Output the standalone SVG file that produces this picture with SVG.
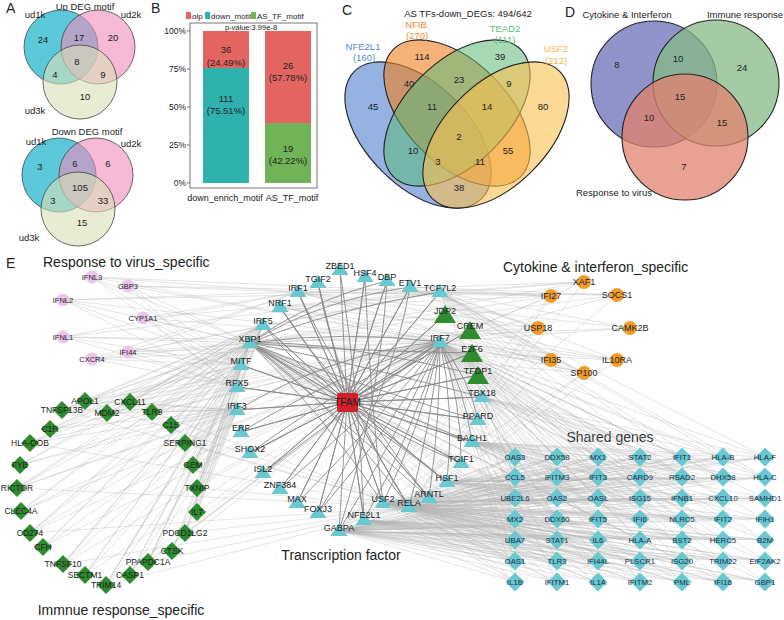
<svg xmlns="http://www.w3.org/2000/svg" xmlns:xlink="http://www.w3.org/1999/xlink" width="784" height="620" viewBox="0 0 784 620">
<style>
.t{font-family:"Liberation Sans",Arial,Helvetica,sans-serif;fill:#222}
.c{text-anchor:middle}
.r{text-anchor:end}
.plet{font-size:14px}
.f95{font-size:9.5px}
.f9{font-size:9px}
.f85{font-size:8.5px}
.f8{font-size:8px}
.f78{font-size:7.8px}
.f75{font-size:7.5px}
.f14{font-size:14px}
.vs{stroke:#444;stroke-width:.8}
.vc{stroke:#222;stroke-width:1.1}
.le{fill:none;stroke:#b3b3b3;stroke-width:.45;stroke-opacity:.8}
.de{fill:none;stroke:#8a8a8a;stroke-width:.9}
.tf{fill:#6ac8d1}
.tfg{fill:#2e8b2e}
.im{fill:#2e8b2e}
.vi{fill:#ebc6ea}
.cy{fill:#f49b2c}
.sh{fill:#6ac8d1}
.sl{fill:#1e2c44}
</style>
<defs>
<path id="tri" d="M0 -8L8.5 5L-8.5 5Z"/>
<path id="trib" d="M0 -11L11 7L-11 7Z"/>
<path id="dia" d="M0 -9L9 0L0 9L-9 0Z"/>
<path id="sdia" d="M0 -9.5L9.5 0L0 9.5L-9.5 0Z"/>
</defs>
<rect width="784" height="620" fill="#fff"/>

<!-- Panel A -->
<g id="panelA">
<text class="t plet" x="6" y="13">A</text>
<text class="t c f95" x="85" y="10">Up DEG motif</text>
<circle cx="61" cy="47" r="37" fill="#3ec0d4" fill-opacity=".85" class="vs"/>
<circle cx="98" cy="47" r="37" fill="#f08cbc" fill-opacity=".6" class="vs"/>
<circle cx="80" cy="82" r="37" fill="#d9dfb8" fill-opacity=".6" class="vs"/>
<text class="t c f95" x="35" y="18">ud1k</text>
<text class="t c f95" x="131" y="18">ud2k</text>
<text class="t c f95" x="35" y="114">ud3k</text>
<text class="t c f95" x="43" y="43">24</text>
<text class="t c f95" x="79" y="41">17</text>
<text class="t c f95" x="113" y="41">20</text>
<text class="t c f95" x="77" y="65">8</text>
<text class="t c f95" x="55" y="78">4</text>
<text class="t c f95" x="103" y="78">9</text>
<text class="t c f95" x="85" y="100">10</text>
<text class="t c f95" x="87" y="135">Down DEG motif</text>
<circle cx="59" cy="175" r="37" fill="#3ec0d4" fill-opacity=".85" class="vs"/>
<circle cx="96" cy="175" r="37" fill="#f08cbc" fill-opacity=".6" class="vs"/>
<circle cx="78" cy="209" r="37" fill="#d9dfb8" fill-opacity=".6" class="vs"/>
<text class="t c f95" x="36" y="145">ud1k</text>
<text class="t c f95" x="131" y="147">ud2k</text>
<text class="t c f95" x="29" y="241">ud3k</text>
<text class="t c f95" x="40" y="170">3</text>
<text class="t c f95" x="75" y="167">6</text>
<text class="t c f95" x="108" y="167">6</text>
<text class="t c f95" x="80" y="191">105</text>
<text class="t c f95" x="53" y="204">3</text>
<text class="t c f95" x="103" y="204">33</text>
<text class="t c f95" x="82" y="226">15</text>
</g>

<!-- Panel B -->
<g id="panelB">
<text class="t plet" x="151" y="13">B</text>
<rect x="186" y="12" width="5" height="7" fill="#e4655f"/>
<text class="t f8" x="192" y="18.5">olp</text>
<rect x="205" y="12" width="5" height="7" fill="#2fb1ae"/>
<text class="t f8" x="211" y="18.5">down_motif</text>
<rect x="251" y="12" width="5" height="7" fill="#71b357"/>
<text class="t f8" x="257" y="18.5">AS_TF_motif</text>
<rect x="190" y="23" width="127" height="165" fill="none" stroke="#555" stroke-width=".8"/>
<rect x="203" y="31" width="46" height="37" fill="#e4655f"/>
<rect x="203" y="68" width="46" height="115" fill="#2fb1ae"/>
<rect x="265" y="31" width="46" height="92" fill="#e4655f"/>
<rect x="265" y="123" width="46" height="60" fill="#71b357"/>
<path d="M187 31H190M187 69H190M187 107H190M187 145H190M187 183H190" stroke="#555" stroke-width=".8"/>
<text class="t r f85" x="186" y="34">100%</text>
<text class="t r f85" x="186" y="72">75%</text>
<text class="t r f85" x="186" y="110">50%</text>
<text class="t r f85" x="186" y="148">25%</text>
<text class="t r f85" x="186" y="186">0%</text>
<text class="t c f75" x="251" y="30">p-value:3.99e-8</text>
<text class="t c f95" x="226" y="53">36</text>
<text class="t c f95" x="226" y="66">(24.49%)</text>
<text class="t c f95" x="226" y="102">111</text>
<text class="t c f95" x="226" y="114">(75.51%)</text>
<text class="t c f95" x="288" y="69">26</text>
<text class="t c f95" x="288" y="81">(57.78%)</text>
<text class="t c f95" x="288" y="152">19</text>
<text class="t c f95" x="288" y="164">(42.22%)</text>
<text class="t c f9" x="225" y="201">down_enrich_motif</text>
<text class="t c f9" x="292" y="201">AS_TF_motif</text>
</g>

<!-- Panel C -->
<g id="panelC">
<text class="t plet" x="342" y="15">C</text>
<text class="t c f95" x="468" y="17">AS TFs-down_DEGs: 494/642</text>
<ellipse cx="418" cy="135" rx="90" ry="51" transform="rotate(45 418 135)" fill="#4f7fcf" fill-opacity=".6" class="vc"/>
<ellipse cx="457" cy="113" rx="90" ry="51" transform="rotate(45 457 113)" fill="#f08020" fill-opacity=".6" class="vc"/>
<ellipse cx="457" cy="113" rx="90" ry="51" transform="rotate(-45 457 113)" fill="#5cb87a" fill-opacity=".55" class="vc"/>
<ellipse cx="496" cy="135" rx="90" ry="51" transform="rotate(-45 496 135)" fill="#fbbf50" fill-opacity=".6" class="vc"/>
<text class="t c f95" x="363" y="50" style="fill:#5a88cf">NFE2L1</text>
<text class="t c f95" x="364" y="61" style="fill:#5a88cf">(160)</text>
<text class="t c f95" x="416" y="28" style="fill:#f08a30">NFIB</text>
<text class="t c f95" x="417" y="39" style="fill:#f08a30">(270)</text>
<text class="t c f95" x="505" y="32" style="fill:#5cb87c">TEAD2</text>
<text class="t c f95" x="505" y="43" style="fill:#5cb87c">(111)</text>
<text class="t c f95" x="556" y="52" style="fill:#f5b64a">USF2</text>
<text class="t c f95" x="556" y="64" style="fill:#f5b64a">(212)</text>
<text class="t c f95" x="422" y="60">114</text>
<text class="t c f95" x="500" y="60">39</text>
<text class="t c f95" x="409" y="87">40</text>
<text class="t c f95" x="459" y="83">23</text>
<text class="t c f95" x="509" y="87">9</text>
<text class="t c f95" x="373" y="110">45</text>
<text class="t c f95" x="432" y="110">11</text>
<text class="t c f95" x="487" y="110">14</text>
<text class="t c f95" x="543" y="110">80</text>
<text class="t c f95" x="459" y="140">2</text>
<text class="t c f95" x="413" y="154">10</text>
<text class="t c f95" x="508" y="154">55</text>
<text class="t c f95" x="438" y="165">3</text>
<text class="t c f95" x="480" y="165">11</text>
<text class="t c f95" x="459" y="191">38</text>
</g>

<!-- Panel D -->
<g id="panelD">
<text class="t plet" x="565" y="17">D</text>
<circle cx="654" cy="84" r="63" fill="#6b6fb8" fill-opacity=".75" class="vc"/>
<circle cx="716" cy="83" r="63" fill="#86ba88" fill-opacity=".75" class="vc"/>
<circle cx="685" cy="137" r="63" fill="#e2826c" fill-opacity=".75" class="vc"/>
<text class="t c f95" x="627" y="18">Cytokine &amp; Interferon</text>
<text class="t c f95" x="745" y="18">Immune response</text>
<text class="t c f95" x="614" y="196">Response to virus</text>
<text class="t c f95" x="617" y="68">8</text>
<text class="t c f95" x="678" y="62">10</text>
<text class="t c f95" x="742" y="71">24</text>
<text class="t c f95" x="680" y="100">15</text>
<text class="t c f95" x="649" y="121">10</text>
<text class="t c f95" x="722" y="126">15</text>
<text class="t c f95" x="684" y="170">7</text>
</g>

<!-- Panel E titles -->
<g id="panelE-labels">
<text class="t f14" x="6" y="268">E</text>
<text class="t f14" x="43" y="267">Response to virus_specific</text>
<text class="t f14" x="503" y="272">Cytokine &amp; interferon_specific</text>
<text class="t c f14" x="610" y="442">Shared genes</text>
<text class="t c f14" x="341" y="560">Transcription factor</text>
<text class="t c f14" x="121" y="615">Immnue response_specific</text>
</g>

<!-- Connectors -->
<g id="connectors">
<path class="le" d="M440 342L515 457L409 507L557 457L440 342L598 457L409 507L640 457L440 342L682 457L409 507L723 457L440 342L765 457L409 507L515 477L440 342L557 477L409 507L598 477L440 342L640 477L409 507L682 477L440 342L723 477L409 507L765 477L440 342L515 498L409 507L557 498L440 342L598 498L409 507L640 498L440 342L682 498L409 507L723 498L440 342L765 498L409 507L515 519L440 342L557 519L409 507L598 519L440 342L640 519L409 507L682 519L440 342L723 519L409 507L765 519L440 342L515 540L409 507L557 540L440 342L598 540L409 507L640 540L440 342L682 540L409 507L723 540L440 342L765 540L409 507L515 561L440 342L557 561L409 507L598 561L440 342L640 561L409 507L682 561L440 342L723 561L409 507L765 561L440 342L515 582L409 507L557 582L440 342L598 582L409 507L640 582L440 342L682 582L409 507L723 582L440 342L765 582L409 507"/>
<path class="le" d="M339 531L515 457L383 503L557 457L339 531L598 457L383 503L640 457L339 531L682 457L383 503L723 457L339 531L765 457L383 503L515 477L339 531L557 477L383 503L598 477L339 531L640 477L383 503L682 477L339 531L723 477L383 503L765 477L339 531L515 498L383 503L557 498L339 531L598 498L383 503L640 498L339 531L682 498L383 503L723 498L339 531L765 498L383 503L515 519L339 531L557 519L383 503L598 519L339 531L640 519L383 503L682 519L339 531L723 519L383 503L765 519L339 531L515 540L383 503L557 540L339 531L598 540L383 503L640 540L339 531L682 540L383 503L723 540L339 531L765 540L383 503L515 561L339 531L557 561L383 503L598 561L339 531L640 561L383 503L682 561L339 531L723 561L383 503L765 561L339 531L515 582L383 503L557 582L339 531L598 582L383 503L640 582L339 531L682 582L383 503L723 582L339 531L765 582L383 503"/>
<path class="le" d="M447 482L515 457L472 442L557 457L447 482L598 457L472 442L640 457L447 482L682 457L472 442L723 457L447 482L765 457L472 442L515 477L447 482L557 477L472 442L598 477L447 482L640 477L472 442L682 477L447 482L723 477L472 442L765 477L447 482L515 498L472 442L557 498L447 482L598 498L472 442L640 498L447 482L682 498L472 442L723 498L447 482L765 498L472 442L515 519L447 482L557 519L472 442L598 519L447 482L640 519L472 442L682 519L447 482L723 519L472 442L765 519L447 482"/>
<path class="le" d="M250 343L515 540L364 520L557 540L250 343L598 540L364 520L640 540L250 343L682 540L364 520L723 540L250 343L765 540L364 520L515 561L250 343L557 561L364 520L598 561L250 343L640 561L364 520L682 561L250 343L723 561L364 520L765 561L250 343L515 582L364 520L557 582L250 343L598 582L364 520L640 582L250 343L682 582L364 520L723 582L250 343L765 582L364 520"/>
<path class="le" d="M440 292L515 457L482 397L557 457L440 292L598 457L482 397L640 457L440 292L682 457L482 397L723 457L440 292L765 457L482 397L515 477L440 292L557 477L482 397L598 477L440 292L640 477L482 397L682 477L440 292L723 477L482 397L765 477L440 292"/>
<path class="le" d="M250 343L92 277L440 342L128 286L250 343L63 300L440 342L143 318L250 343L63 337L440 342L128 352L250 343L92 359L440 342"/>
<path class="le" d="M241 365L92 277L298 292L128 286L241 365L63 300L298 292L143 318L241 365L63 337L298 292L128 352L241 365L92 359L298 292"/>
<path class="le" d="M440 292L92 277L237 387L128 286L440 292L63 300L237 387L143 318L440 292L63 337L237 387L128 352L440 292L92 359L237 387"/>
<path class="le" d="M250 343L85 401L440 342L130 402L250 343L152 412L440 342L62 410L250 343L107 413L440 342L50 429L250 343L171 425L440 342L30 443L250 343L185 443L440 342L20 465L250 343L193 465L440 342L17 488L250 343L197 488L440 342L21 511L250 343L197 512L440 342L30 533L250 343L185 533L440 342L43 547L250 343L172 551L440 342L63 564L250 343L148 562L440 342L85 575L250 343L130 575L440 342L106 585L250 343"/>
<path class="le" d="M237 410L62 410L263 325L50 429L237 410L30 443L263 325L20 465L237 410L17 488L263 325L21 511L237 410L30 533L263 325L43 547L237 410L63 564L263 325L85 575L237 410L106 585L263 325L130 575L237 410L148 562L263 325L172 551L237 410L185 533L263 325L197 512L237 410L197 488L263 325L193 465L237 410L185 443L263 325L171 425L237 410L152 412L263 325L130 402L237 410L107 413L263 325L85 401L237 410"/>
<path class="le" d="M409 507L85 401L241 365L30 443L409 507L17 488L241 365L30 533L409 507L63 564L241 365L106 585L409 507L148 562L241 365L185 533L409 507L197 488L241 365L185 443L409 507L152 412L241 365L62 410L409 507"/>
<path class="le" d="M440 342L584 282L440 292L551 296L440 342L617 295L440 292L538 328L440 342L630 328L440 292L551 360L440 342L617 360L440 292L584 373L440 342"/>
<path class="le" d="M250 343L584 282L298 292L551 296L250 343L617 295L298 292L538 328L250 343L630 328L298 292L551 360L250 343L617 360L298 292L584 373L250 343"/>
<path class="le" d="M409 507L584 282L280 307L551 296L409 507L538 328L280 307L551 360L409 507L584 373L280 307L617 360L409 507"/>
<path class="le" d="M339 531L551 296L410 287L584 373L339 531L538 328L410 287L617 295L339 531"/>
<path class="de" d="M340 270L347 402L365 277L347 402L387 281L347 402L318 283L347 402L410 287L347 402L298 292L347 402L440 292L347 402L280 307L347 402L445 315L347 402L263 325L347 402L470 330L347 402L440 342L347 402L250 343L347 402L472 353L347 402L241 365L347 402L478 375L347 402L237 387L347 402L482 397L347 402L237 410L347 402L478 420L347 402L241 432L347 402L472 442L347 402L250 453L347 402L461 463L347 402L263 473L347 402L447 482L347 402L280 489L347 402L429 498L347 402L297 503L347 402L383 503L347 402L409 507L347 402L318 513L347 402L364 520L347 402L339 531"/>
<path class="de" d="M440 342Q400 430 339 531M440 342Q410 440 364 520M440 342Q420 430 383 503M440 342Q430 430 409 507M440 342Q440 420 429 498M440 342Q455 410 447 482M440 342Q462 400 461 463M440 342Q465 390 472 442M440 342Q470 380 478 420M440 342Q380 420 297 503M440 342Q390 430 318 513M440 342Q370 410 280 489M440 342Q360 400 263 473M440 342Q350 380 250 453M440 342Q345 370 241 432M440 342Q340 350 237 410M440 342Q345 330 250 343"/>
<path class="de" d="M250 343Q330 310 440 292M250 343Q320 300 410 287M250 343Q310 300 387 281M250 343Q340 360 482 397M250 343Q340 380 478 420M250 343Q340 390 472 442M250 343Q330 400 409 507M250 343Q320 410 383 503M250 343Q330 410 429 498M250 343Q340 400 447 482M250 343Q320 350 472 353M250 343Q330 340 478 375"/>
<path class="de" d="M340 270Q360 400 364 520M365 277Q370 400 383 503M387 281Q380 400 339 531M318 283Q340 400 409 507M410 287Q390 400 318 513M298 292Q350 400 429 498M280 307Q340 400 447 482M263 325Q330 410 461 463"/>
</g>

<!-- Response to virus nodes -->
<g id="virus-nodes">
<g id="n-IFNL3"><circle cx="92" cy="277" r="6.5" class="vi"/><text class="t c f75" x="92" y="280">IFNL3</text></g>
<g id="n-GBP3"><circle cx="128" cy="286" r="6.5" class="vi"/><text class="t c f75" x="128" y="289">GBP3</text></g>
<g id="n-IFNL2"><circle cx="63" cy="300" r="6.5" class="vi"/><text class="t c f75" x="63" y="303">IFNL2</text></g>
<g id="n-CYP1A1"><circle cx="143" cy="318" r="6.5" class="vi"/><text class="t c f75" x="143" y="321">CYP1A1</text></g>
<g id="n-IFNL1"><circle cx="63" cy="337" r="6.5" class="vi"/><text class="t c f75" x="63" y="340">IFNL1</text></g>
<g id="n-IFI44"><circle cx="128" cy="352" r="6.5" class="vi"/><text class="t c f75" x="128" y="355">IFI44</text></g>
<g id="n-CXCR4"><circle cx="92" cy="359" r="6.5" class="vi"/><text class="t c f75" x="92" y="362">CXCR4</text></g>
</g>

<!-- Immune response nodes -->
<g id="immune-nodes">
<g id="n-APOL1"><use href="#dia" x="85" y="401" class="im"/><text class="t c f85" x="85" y="404">APOL1</text></g>
<g id="n-CXCL11"><use href="#dia" x="130" y="402" class="im"/><text class="t c f85" x="130" y="405">CXCL11</text></g>
<g id="n-TLR9"><use href="#dia" x="152" y="412" class="im"/><text class="t c f85" x="152" y="415">TLR9</text></g>
<g id="n-TNFSF13B"><use href="#dia" x="62" y="410" class="im"/><text class="t c f85" x="62" y="413">TNFSF13B</text></g>
<g id="n-MDM2"><use href="#dia" x="107" y="413" class="im"/><text class="t c f85" x="107" y="416">MDM2</text></g>
<g id="n-C1R"><use href="#dia" x="50" y="429" class="im"/><text class="t c f85" x="50" y="432">C1R</text></g>
<g id="n-C1S"><use href="#dia" x="171" y="425" class="im"/><text class="t c f85" x="171" y="428">C1S</text></g>
<g id="n-HLA-DOB"><use href="#dia" x="30" y="443" class="im"/><text class="t c f85" x="30" y="446">HLA-DOB</text></g>
<g id="n-SERPING1"><use href="#dia" x="185" y="443" class="im"/><text class="t c f85" x="185" y="446">SERPING1</text></g>
<g id="n-FYB"><use href="#dia" x="20" y="465" class="im"/><text class="t c f85" x="20" y="468">FYB</text></g>
<g id="n-GEM"><use href="#dia" x="193" y="465" class="im"/><text class="t c f85" x="193" y="468">GEM</text></g>
<g id="n-RICTOR"><use href="#dia" x="17" y="488" class="im"/><text class="t c f85" x="17" y="491">RICTOR</text></g>
<g id="n-TXNIP"><use href="#dia" x="197" y="488" class="im"/><text class="t c f85" x="197" y="491">TXNIP</text></g>
<g id="n-CLEC4A"><use href="#dia" x="21" y="511" class="im"/><text class="t c f85" x="21" y="514">CLEC4A</text></g>
<g id="n-IL7"><use href="#dia" x="197" y="512" class="im"/><text class="t c f85" x="197" y="515">IL7</text></g>
<g id="n-CD274"><use href="#dia" x="30" y="533" class="im"/><text class="t c f85" x="30" y="536">CD274</text></g>
<g id="n-PDCD1LG2"><use href="#dia" x="185" y="533" class="im"/><text class="t c f85" x="185" y="536">PDCD1LG2</text></g>
<g id="n-CFH"><use href="#dia" x="43" y="547" class="im"/><text class="t c f85" x="43" y="550">CFH</text></g>
<g id="n-CTSK"><use href="#dia" x="172" y="551" class="im"/><text class="t c f85" x="172" y="554">CTSK</text></g>
<g id="n-TNFSF10"><use href="#dia" x="63" y="564" class="im"/><text class="t c f85" x="63" y="567">TNFSF10</text></g>
<g id="n-PPAPDC1A"><use href="#dia" x="148" y="562" class="im"/><text class="t c f85" x="148" y="565">PPAPDC1A</text></g>
<g id="n-SECTM1"><use href="#dia" x="85" y="575" class="im"/><text class="t c f85" x="85" y="578">SECTM1</text></g>
<g id="n-CASP1"><use href="#dia" x="130" y="575" class="im"/><text class="t c f85" x="130" y="578">CASP1</text></g>
<g id="n-TRIM14"><use href="#dia" x="106" y="585" class="im"/><text class="t c f85" x="106" y="588">TRIM14</text></g>
</g>

<!-- Cytokine nodes -->
<g id="cytokine-nodes">
<g id="n-XAF1"><circle cx="584" cy="282" r="7" class="cy"/><text class="t c f9" x="584" y="285">XAF1</text></g>
<g id="n-IFI27"><circle cx="551" cy="296" r="7" class="cy"/><text class="t c f9" x="551" y="299">IFI27</text></g>
<g id="n-SOCS1"><circle cx="617" cy="295" r="7" class="cy"/><text class="t c f9" x="617" y="298">SOCS1</text></g>
<g id="n-USP18"><circle cx="538" cy="328" r="7" class="cy"/><text class="t c f9" x="538" y="331">USP18</text></g>
<g id="n-CAMK2B"><circle cx="630" cy="328" r="7" class="cy"/><text class="t c f9" x="630" y="331">CAMK2B</text></g>
<g id="n-IFI35"><circle cx="551" cy="360" r="7" class="cy"/><text class="t c f9" x="551" y="363">IFI35</text></g>
<g id="n-IL10RA"><circle cx="617" cy="360" r="7" class="cy"/><text class="t c f9" x="617" y="363">IL10RA</text></g>
<g id="n-SP100"><circle cx="584" cy="373" r="7" class="cy"/><text class="t c f9" x="584" y="376">SP100</text></g>
</g>

<!-- Transcription factors -->
<g id="tf-nodes">
<g id="n-TFAM"><rect x="337" y="393" width="21" height="19" rx="2" fill="#d0202a"/><text class="t c" style="font-size:10px" x="347.5" y="406">TFAM</text></g>
<g id="n-ZBED1"><use href="#tri" x="340" y="270" class="tf"/><text class="t c f9" x="340" y="269">ZBED1</text></g>
<g id="n-HSF4"><use href="#tri" x="365" y="277" class="tf"/><text class="t c f9" x="365" y="276">HSF4</text></g>
<g id="n-DBP"><use href="#tri" x="387" y="281" class="tf"/><text class="t c f9" x="387" y="280">DBP</text></g>
<g id="n-TGIF2"><use href="#tri" x="318" y="283" class="tf"/><text class="t c f9" x="318" y="282">TGIF2</text></g>
<g id="n-ETV1"><use href="#tri" x="410" y="287" class="tf"/><text class="t c f9" x="410" y="286">ETV1</text></g>
<g id="n-IRF1"><use href="#tri" x="298" y="292" class="tf"/><text class="t c f9" x="298" y="291">IRF1</text></g>
<g id="n-TCF7L2"><use href="#tri" x="440" y="292" class="tf"/><text class="t c f9" x="440" y="291">TCF7L2</text></g>
<g id="n-NRF1"><use href="#tri" x="280" y="307" class="tf"/><text class="t c f9" x="280" y="306">NRF1</text></g>
<g id="n-JDP2"><use href="#trib" x="445" y="316" class="tfg"/><text class="t c f9" x="445" y="314">JDP2</text></g>
<g id="n-IRF5"><use href="#tri" x="263" y="325" class="tf"/><text class="t c f9" x="263" y="324">IRF5</text></g>
<g id="n-CREM"><use href="#trib" x="470" y="332" class="tfg"/><text class="t c f9" x="470" y="329">CREM</text></g>
<g id="n-IRF7"><use href="#tri" x="440" y="342" class="tf"/><text class="t c f9" x="440" y="341">IRF7</text></g>
<g id="n-XBP1"><use href="#tri" x="250" y="343" class="tf"/><text class="t c f9" x="250" y="342">XBP1</text></g>
<g id="n-E2F6"><use href="#trib" x="472" y="355" class="tfg"/><text class="t c f9" x="472" y="352">E2F6</text></g>
<g id="n-MITF"><use href="#tri" x="241" y="365" class="tf"/><text class="t c f9" x="241" y="364">MITF</text></g>
<g id="n-TFDP1"><use href="#trib" x="478" y="377" class="tfg"/><text class="t c f9" x="478" y="374">TFDP1</text></g>
<g id="n-RFX5"><use href="#tri" x="237" y="387" class="tf"/><text class="t c f9" x="237" y="386">RFX5</text></g>
<g id="n-TBX18"><use href="#tri" x="482" y="397" class="tf"/><text class="t c f9" x="482" y="396">TBX18</text></g>
<g id="n-IRF3"><use href="#tri" x="237" y="410" class="tf"/><text class="t c f9" x="237" y="409">IRF3</text></g>
<g id="n-PPARD"><use href="#tri" x="478" y="420" class="tf"/><text class="t c f9" x="478" y="419">PPARD</text></g>
<g id="n-ERF"><use href="#tri" x="241" y="432" class="tf"/><text class="t c f9" x="241" y="431">ERF</text></g>
<g id="n-BACH1"><use href="#tri" x="472" y="442" class="tf"/><text class="t c f9" x="472" y="441">BACH1</text></g>
<g id="n-SHOX2"><use href="#tri" x="250" y="453" class="tf"/><text class="t c f9" x="250" y="452">SHOX2</text></g>
<g id="n-TGIF1"><use href="#tri" x="461" y="463" class="tf"/><text class="t c f9" x="461" y="462">TGIF1</text></g>
<g id="n-ISL2"><use href="#tri" x="263" y="473" class="tf"/><text class="t c f9" x="263" y="472">ISL2</text></g>
<g id="n-HSF1"><use href="#tri" x="447" y="482" class="tf"/><text class="t c f9" x="447" y="481">HSF1</text></g>
<g id="n-ZNF384"><use href="#tri" x="280" y="489" class="tf"/><text class="t c f9" x="280" y="488">ZNF384</text></g>
<g id="n-ARNTL"><use href="#tri" x="429" y="498" class="tf"/><text class="t c f9" x="429" y="497">ARNTL</text></g>
<g id="n-MAX"><use href="#tri" x="297" y="503" class="tf"/><text class="t c f9" x="297" y="502">MAX</text></g>
<g id="n-USF2"><use href="#tri" x="383" y="503" class="tf"/><text class="t c f9" x="383" y="502">USF2</text></g>
<g id="n-RELA"><use href="#tri" x="409" y="507" class="tf"/><text class="t c f9" x="409" y="506">RELA</text></g>
<g id="n-FOXJ3"><use href="#tri" x="318" y="513" class="tf"/><text class="t c f9" x="318" y="512">FOXJ3</text></g>
<g id="n-NFE2L1"><use href="#tri" x="364" y="520" class="tf"/><text class="t c f9" x="364" y="518">NFE2L1</text></g>
<g id="n-GABPA"><use href="#tri" x="339" y="531" class="tf"/><text class="t c f9" x="339" y="531">GABPA</text></g>
</g>

<!-- Shared genes -->
<g id="shared-nodes">
<g id="n-OAS3"><use href="#sdia" x="515" y="457" class="sh"/><text class="t sl c f78" x="515" y="460">OAS3</text></g>
<g id="n-DDX58"><use href="#sdia" x="557" y="457" class="sh"/><text class="t sl c f78" x="557" y="460">DDX58</text></g>
<g id="n-MX1"><use href="#sdia" x="598" y="457" class="sh"/><text class="t sl c f78" x="598" y="460">MX1</text></g>
<g id="n-STAT2"><use href="#sdia" x="640" y="457" class="sh"/><text class="t sl c f78" x="640" y="460">STAT2</text></g>
<g id="n-IFIT1"><use href="#sdia" x="682" y="457" class="sh"/><text class="t sl c f78" x="682" y="460">IFIT1</text></g>
<g id="n-HLA-B"><use href="#sdia" x="723" y="457" class="sh"/><text class="t sl c f78" x="723" y="460">HLA-B</text></g>
<g id="n-HLA-F"><use href="#sdia" x="765" y="457" class="sh"/><text class="t sl c f78" x="765" y="460">HLA-F</text></g>
<g id="n-CCL5"><use href="#sdia" x="515" y="477" class="sh"/><text class="t sl c f78" x="515" y="480">CCL5</text></g>
<g id="n-IFITM3"><use href="#sdia" x="557" y="477" class="sh"/><text class="t sl c f78" x="557" y="480">IFITM3</text></g>
<g id="n-IFIT3"><use href="#sdia" x="598" y="477" class="sh"/><text class="t sl c f78" x="598" y="480">IFIT3</text></g>
<g id="n-CARD9"><use href="#sdia" x="640" y="477" class="sh"/><text class="t sl c f78" x="640" y="480">CARD9</text></g>
<g id="n-RSAD2"><use href="#sdia" x="682" y="477" class="sh"/><text class="t sl c f78" x="682" y="480">RSAD2</text></g>
<g id="n-DHX58"><use href="#sdia" x="723" y="477" class="sh"/><text class="t sl c f78" x="723" y="480">DHX58</text></g>
<g id="n-HLA-C"><use href="#sdia" x="765" y="477" class="sh"/><text class="t sl c f78" x="765" y="480">HLA-C</text></g>
<g id="n-UBE2L6"><use href="#sdia" x="515" y="498" class="sh"/><text class="t sl c f78" x="515" y="501">UBE2L6</text></g>
<g id="n-OAS2"><use href="#sdia" x="557" y="498" class="sh"/><text class="t sl c f78" x="557" y="501">OAS2</text></g>
<g id="n-OASL"><use href="#sdia" x="598" y="498" class="sh"/><text class="t sl c f78" x="598" y="501">OASL</text></g>
<g id="n-ISG15"><use href="#sdia" x="640" y="498" class="sh"/><text class="t sl c f78" x="640" y="501">ISG15</text></g>
<g id="n-IFNB1"><use href="#sdia" x="682" y="498" class="sh"/><text class="t sl c f78" x="682" y="501">IFNB1</text></g>
<g id="n-CXCL10"><use href="#sdia" x="723" y="498" class="sh"/><text class="t sl c f78" x="723" y="501">CXCL10</text></g>
<g id="n-SAMHD1"><use href="#sdia" x="765" y="498" class="sh"/><text class="t sl c f78" x="765" y="501">SAMHD1</text></g>
<g id="n-MX2"><use href="#sdia" x="515" y="519" class="sh"/><text class="t sl c f78" x="515" y="522">MX2</text></g>
<g id="n-DDX60"><use href="#sdia" x="557" y="519" class="sh"/><text class="t sl c f78" x="557" y="522">DDX60</text></g>
<g id="n-IFIT5"><use href="#sdia" x="598" y="519" class="sh"/><text class="t sl c f78" x="598" y="522">IFIT5</text></g>
<g id="n-IFI6"><use href="#sdia" x="640" y="519" class="sh"/><text class="t sl c f78" x="640" y="522">IFI6</text></g>
<g id="n-NLRC5"><use href="#sdia" x="682" y="519" class="sh"/><text class="t sl c f78" x="682" y="522">NLRC5</text></g>
<g id="n-IFIT2"><use href="#sdia" x="723" y="519" class="sh"/><text class="t sl c f78" x="723" y="522">IFIT2</text></g>
<g id="n-IFIH1"><use href="#sdia" x="765" y="519" class="sh"/><text class="t sl c f78" x="765" y="522">IFIH1</text></g>
<g id="n-UBA7"><use href="#sdia" x="515" y="540" class="sh"/><text class="t sl c f78" x="515" y="543">UBA7</text></g>
<g id="n-STAT1"><use href="#sdia" x="557" y="540" class="sh"/><text class="t sl c f78" x="557" y="543">STAT1</text></g>
<g id="n-IL6"><use href="#sdia" x="598" y="540" class="sh"/><text class="t sl c f78" x="598" y="543">IL6</text></g>
<g id="n-HLA-A"><use href="#sdia" x="640" y="540" class="sh"/><text class="t sl c f78" x="640" y="543">HLA-A</text></g>
<g id="n-BST2"><use href="#sdia" x="682" y="540" class="sh"/><text class="t sl c f78" x="682" y="543">BST2</text></g>
<g id="n-HERC5"><use href="#sdia" x="723" y="540" class="sh"/><text class="t sl c f78" x="723" y="543">HERC5</text></g>
<g id="n-B2M"><use href="#sdia" x="765" y="540" class="sh"/><text class="t sl c f78" x="765" y="543">B2M</text></g>
<g id="n-OAS1"><use href="#sdia" x="515" y="561" class="sh"/><text class="t sl c f78" x="515" y="564">OAS1</text></g>
<g id="n-TLR3"><use href="#sdia" x="557" y="561" class="sh"/><text class="t sl c f78" x="557" y="564">TLR3</text></g>
<g id="n-IFI44L"><use href="#sdia" x="598" y="561" class="sh"/><text class="t sl c f78" x="598" y="564">IFI44L</text></g>
<g id="n-PLSCR1"><use href="#sdia" x="640" y="561" class="sh"/><text class="t sl c f78" x="640" y="564">PLSCR1</text></g>
<g id="n-ISG20"><use href="#sdia" x="682" y="561" class="sh"/><text class="t sl c f78" x="682" y="564">ISG20</text></g>
<g id="n-TRIM22"><use href="#sdia" x="723" y="561" class="sh"/><text class="t sl c f78" x="723" y="564">TRIM22</text></g>
<g id="n-EIF2AK2"><use href="#sdia" x="765" y="561" class="sh"/><text class="t sl c f78" x="765" y="564">EIF2AK2</text></g>
<g id="n-IL1B"><use href="#sdia" x="515" y="582" class="sh"/><text class="t sl c f78" x="515" y="585">IL1B</text></g>
<g id="n-IFITM1"><use href="#sdia" x="557" y="582" class="sh"/><text class="t sl c f78" x="557" y="585">IFITM1</text></g>
<g id="n-IL1A"><use href="#sdia" x="598" y="582" class="sh"/><text class="t sl c f78" x="598" y="585">IL1A</text></g>
<g id="n-IFITM2"><use href="#sdia" x="640" y="582" class="sh"/><text class="t sl c f78" x="640" y="585">IFITM2</text></g>
<g id="n-PML"><use href="#sdia" x="682" y="582" class="sh"/><text class="t sl c f78" x="682" y="585">PML</text></g>
<g id="n-IFI16"><use href="#sdia" x="723" y="582" class="sh"/><text class="t sl c f78" x="723" y="585">IFI16</text></g>
<g id="n-GBP1"><use href="#sdia" x="765" y="582" class="sh"/><text class="t sl c f78" x="765" y="585">GBP1</text></g>
</g>
</svg>
